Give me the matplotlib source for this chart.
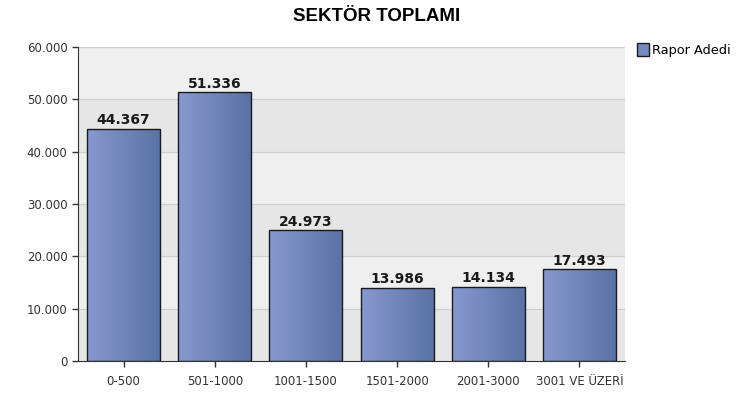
import numpy as np
import matplotlib
matplotlib.use('Agg')
import matplotlib.pyplot as plt
from matplotlib.patches import Patch
from matplotlib.colors import LinearSegmentedColormap

kategoriler = ["0-500", "501-1000", "1001-1500", "1501-2000", "2001-3000", "3001 VE ÜZERİ"]
rapor_adedi = [44367, 51336, 24973, 13986, 14134, 17493]
y_ticks = [0, 10000, 20000, 30000, 40000, 50000, 60000]
y_etiket = ["0", "10.000", "20.000", "30.000", "40.000", "50.000", "60.000"]

fig = plt.figure(figsize=(7.45, 4.09), dpi=100)
ax = fig.add_axes([0.1047, 0.1174, 0.7343, 0.7676])

# arka plan bantlari
ax.set_facecolor("#efefef")
for i in range(0, 6):
    if i % 2 == 0:
        ax.axhspan(y_ticks[i], y_ticks[i + 1], color="#e6e6e6", zorder=0, lw=0)
for t in y_ticks[1:]:
    ax.axhline(t, color="#cfcfcf", lw=0.9, zorder=0.5)

x = np.arange(len(kategoriler))
cmap = LinearSegmentedColormap.from_list("bar", ["#8799d0", "#5a72a6"])
grad = np.linspace(0, 1, 256).reshape(1, -1)
bars = ax.bar(x, rapor_adedi, width=0.8, facecolor="none", edgecolor="#1a1a1a", lw=1.0, zorder=3)
for b, v in zip(bars, rapor_adedi):
    x0 = b.get_x()
    im = ax.imshow(grad, cmap=cmap, aspect="auto", extent=[x0, x0 + b.get_width(), 0, v], zorder=2)
    im.set_clip_path(b)
    ax.text(b.get_x() + b.get_width() / 2, v + 300, f"{v:,}".replace(",", "."),
            ha="center", va="bottom", fontsize=10, fontweight="bold", color="#1a1a1a")

ax.set_xlim(-0.5, 5.5)
ax.set_ylim(0, 60000)
ax.set_yticks(y_ticks)
ax.set_yticklabels(y_etiket)
ax.set_xticks(x)
ax.set_xticklabels(kategoriler)
ax.tick_params(axis="both", labelsize=8.5, colors="#333333", labelcolor="#333333", length=4, width=1)
ax.tick_params(axis="x", pad=6)
for s in ["top", "right"]:
    ax.spines[s].set_visible(False)
for s in ["left", "bottom"]:
    ax.spines[s].set_color("#333333")

fig.text(0.505, 0.96, "SEKTÖR TOPLAMI", ha="center", va="center",
         fontsize=13.5, fontweight="bold", family="Liberation Sans")

fig.legend(handles=[Patch(facecolor="#7489c0", edgecolor="#1a1a1a", label="Rapor Adedi")],
           loc="upper left", bbox_to_anchor=(0.848, 0.907), frameon=False,
           fontsize=9.3, handlelength=0.9, handleheight=1.1, handletextpad=0.3, borderaxespad=0)

fig.savefig("out.png", dpi=100)
